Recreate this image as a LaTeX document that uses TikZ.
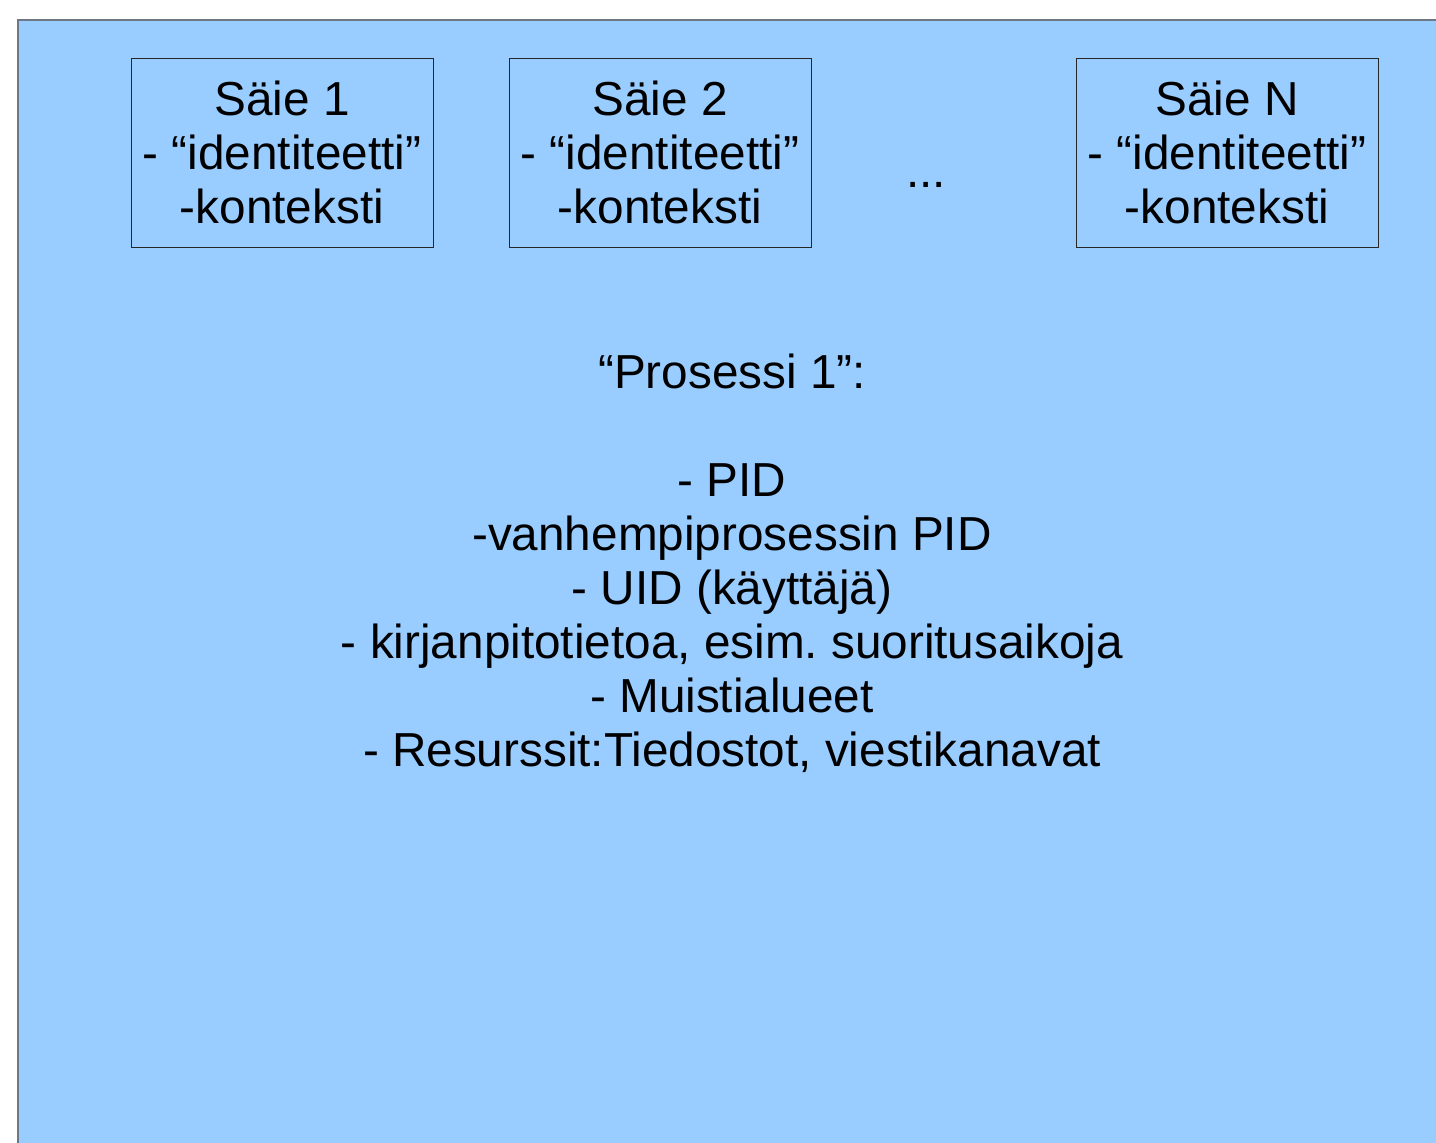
\documentclass[tikz,border=0pt]{standalone}
\usepackage{fontspec}
\setmainfont{Liberation Sans}
\frenchspacing
\definecolor{bgblue}{HTML}{99CCFF}
\definecolor{edgegray}{HTML}{6E7783}
\begin{document}
\begin{tikzpicture}[x=1pt,y=-1pt,
  thread/.style={draw=black!85,line width=0.9pt,minimum width=302pt,minimum height=189pt,
    inner sep=0pt,align=center,font=\fontsize{47.7}{54}\selectfont},
  bigtext/.style={align=center,inner sep=0pt,font=\fontsize{47.7}{54}\selectfont}]
\useasboundingbox (0,0) rectangle (1436,1143);
\clip (0,0) rectangle (1436,1143);
\fill[white] (0,0) rectangle (1436,1143);
\draw[fill=bgblue,draw=edgegray,line width=2pt] (18,20) rectangle (1460,1170);
\node[thread] (s1) at (282,152.5) {Säie 1\\- “identiteetti”\\-konteksti};
\node[thread] (s2) at (660,152.5) {Säie 2\\- “identiteetti”\\-konteksti};
\node[thread] (sn) at (1227,152.5) {Säie N\\- “identiteetti”\\-konteksti};
\node[bigtext,anchor=base] (dots) at (926,187) {...};
\node[bigtext,anchor=north] (proc) at (732,354) {“Prosessi 1”:\\[54pt]- PID\\-vanhempiprosessin PID\\- UID (käyttäjä)\\- kirjanpitotietoa, esim. suoritusaikoja\\- Muistialueet\\- Resurssit:Tiedostot, viestikanavat};
\end{tikzpicture}
\end{document}
